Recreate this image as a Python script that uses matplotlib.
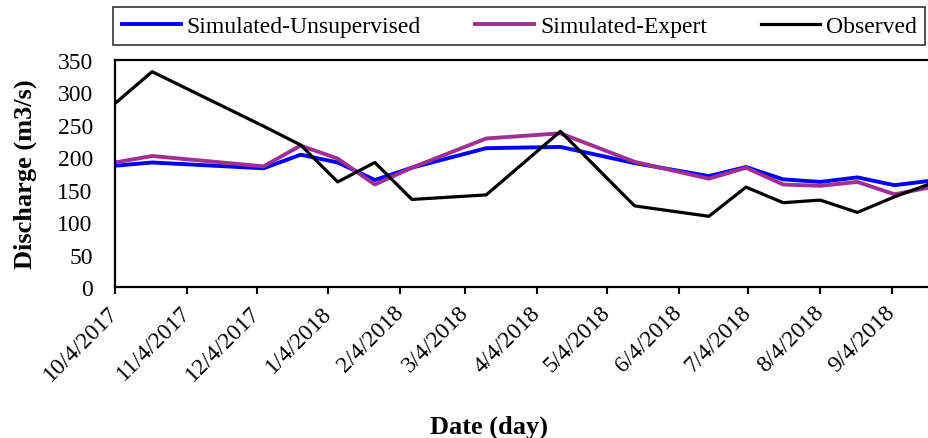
import matplotlib
matplotlib.use("Agg")
import matplotlib.pyplot as plt
import numpy as np
from datetime import datetime

plt.rcParams['font.family'] = ['Liberation Serif', 'DejaVu Serif']

# sample dates (16 day revisit)
dates = ["2017-10-04", "2017-10-20", "2017-12-07", "2017-12-23", "2018-01-08",
         "2018-01-24", "2018-02-09", "2018-03-13", "2018-04-14", "2018-05-16",
         "2018-06-17", "2018-07-03", "2018-07-19", "2018-08-04", "2018-08-20",
         "2018-09-05", "2018-09-21"]

sim_unsup = [187, 192, 183, 204, 192, 165, 184, 214, 216, 191, 171, 185,
             166, 162, 169, 157, 164]
sim_expert = [192, 202, 186, 218, 198, 158, 184, 229, 237, 193, 167, 184,
              158, 156, 162, 143, 154]
observed = [283, 332, 248, 219, 162, 192, 135, 142, 240, 125, 109, 154,
            130, 134, 115, 139, 160]

tick_dates = ["2017-10-04", "2017-11-04", "2017-12-04", "2018-01-04",
              "2018-02-04", "2018-03-04", "2018-04-04", "2018-05-04",
              "2018-06-04", "2018-07-04", "2018-08-04", "2018-09-04"]
tick_labels = ["10/4/2017", "11/4/2017", "12/4/2017", "1/4/2018", "2/4/2018",
               "3/4/2018", "4/4/2018", "5/4/2018", "6/4/2018", "7/4/2018",
               "8/4/2018", "9/4/2018"]

x = [datetime.strptime(d, "%Y-%m-%d") for d in dates]
xt = [datetime.strptime(d, "%Y-%m-%d") for d in tick_dates]

fig = plt.figure(figsize=(9.29, 4.39), dpi=100)
ax = fig.add_axes([0.1238, 0.344, 0.879, 0.517])

l1, = ax.plot(x, sim_unsup, color='#0000FF', lw=2.8, label='Simulated-Unsupervised')
l2, = ax.plot(x, sim_expert, color='#A12E93', lw=2.8, label='Simulated-Expert')
l3, = ax.plot(x, observed, color='black', lw=2.3, label='Observed')

ax.set_ylim(0, 350)
ax.set_yticks(np.arange(0, 351, 50))
ax.set_xlim(x[0], x[-1])
ax.set_xticks(xt)
ax.set_xticklabels(tick_labels, rotation=45, ha='right', va='center',
                   rotation_mode='anchor')
ax.tick_params(axis='x', direction='out', length=5, width=1.5, labelsize=17, pad=11)
ax.tick_params(axis='y', length=0, labelsize=17, pad=16)
for s in ['left', 'bottom', 'top']:
    ax.spines[s].set_linewidth(1.6)
ax.spines['right'].set_visible(False)

ax.set_ylabel('Discharge (m3/s)', fontsize=19, fontweight='bold', labelpad=15)
ax.set_xlabel('Date (day)', fontsize=19, fontweight='bold')
ax.xaxis.set_label_coords(0.458, -0.56)

leg = fig.legend(handles=[l1, l2, l3], loc='center', ncol=3,
                 bbox_to_anchor=(0.559, 0.938), fontsize=17, frameon=True,
                 fancybox=False, edgecolor='black', handlelength=2.5,
                 handletextpad=0.25, columnspacing=2.3, borderpad=0.35)
leg.get_frame().set_linewidth(1.2)

fig.savefig('out.png', dpi=100)
